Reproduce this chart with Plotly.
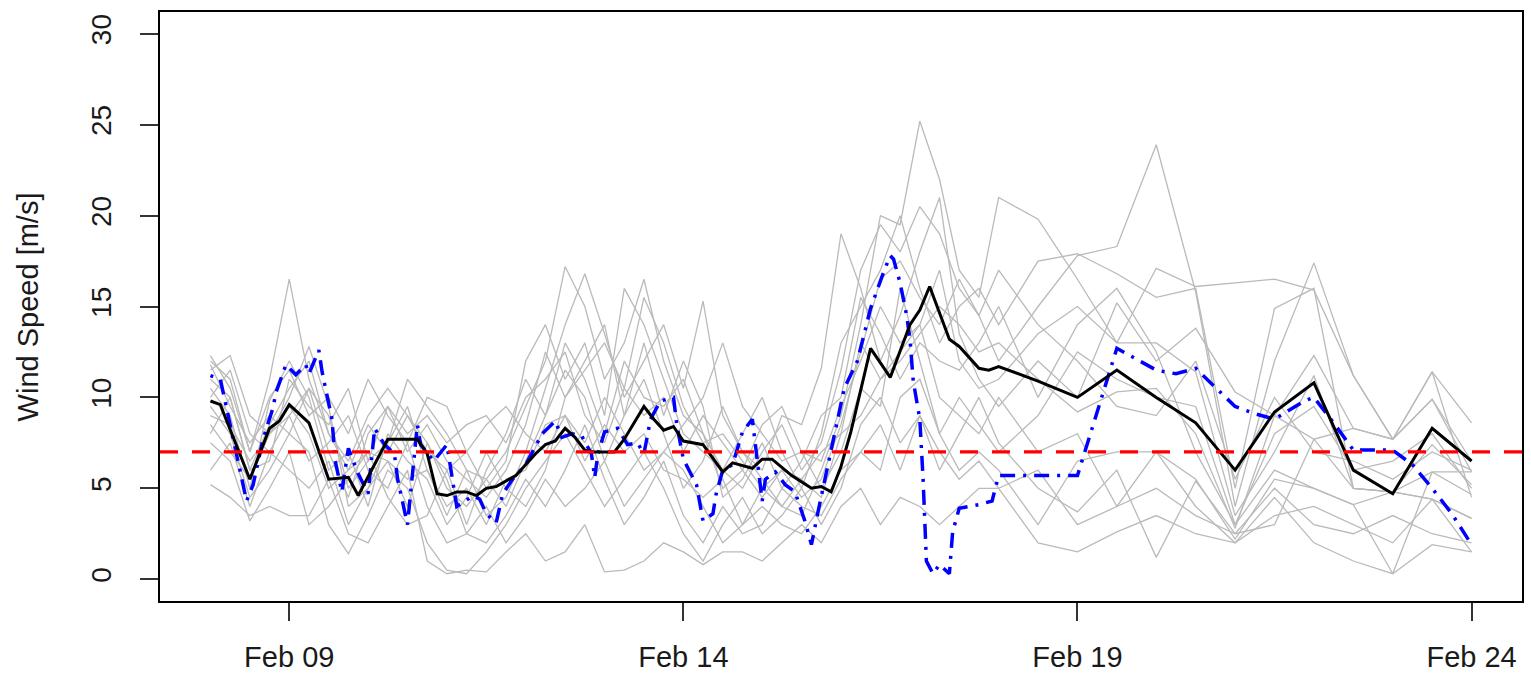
import pandas as pd
import plotly.graph_objects as go

# Forecast start (hour 0) and lead times
START = pd.Timestamp("2019-02-08 00:00")
member_hours = list(range(0, 241, 6)) + list(range(252, 385, 12))

# Ensemble members: wind speed [m/s]
member_01 = [12.3, 10.5, 7.0, 11.0, 16.5, 11.0, 8.0, 6.5, 9.0, 10.5, 9.0, 7.5, 5.0, 4.0, 5.5, 7.0, 9.5, 12.0, 17.2, 15.0, 11.0,
             13.0, 16.5, 12.0, 9.0, 8.0, 6.0, 5.0, 7.0, 8.5, 6.0, 7.5, 11.5, 17.0, 19.5, 18.0, 20.5, 19.0, 16.0, 14.5, 12.0,
             15.0, 17.8, 18.3, 23.9, 15.8, 4.0, 12.0, 17.4, 11.2, 7.7, 11.4, 8.6]
member_02 = [11.5, 12.3, 9.0, 8.0, 10.0, 12.8, 9.5, 4.0, 5.0, 7.5, 11.0, 9.5, 8.0, 6.0, 3.5, 4.5, 7.0, 10.5, 14.0, 16.8, 13.5,
             10.0, 12.0, 14.0, 10.5, 15.3, 9.0, 7.0, 5.5, 4.0, 3.5, 6.0, 9.0, 14.0, 20.0, 19.5, 25.2, 22.0, 17.0, 15.5, 21.0,
             19.8, 16.5, 13.0, 17.1, 16.1, 16.3, 16.5, 15.9, 11.2, 7.7, 9.9, 6.5]
member_03 = [9.5, 8.0, 4.5, 6.0, 8.0, 7.0, 3.0, 1.4, 3.5, 6.0, 5.0, 2.0, 0.5, 0.3, 1.5, 3.0, 5.0, 6.5, 8.0, 6.0, 4.0,
             5.5, 7.0, 5.0, 2.5, 1.0, 3.0, 4.5, 2.5, 3.5, 5.0, 3.0, 5.0, 8.5, 10.0, 7.5, 9.0, 6.0, 8.0, 10.0, 7.5,
             5.0, 3.7, 6.0, 1.2, 5.4, 2.5, 3.0, 7.7, 5.0, 4.8, 4.4, 3.35]
member_04 = [10.5, 9.0, 5.0, 9.8, 12.0, 10.0, 6.0, 7.0, 4.0, 8.0, 6.5, 5.5, 3.0, 4.5, 7.0, 5.0, 4.0, 6.0, 10.0, 12.0, 14.0,
             9.0, 11.0, 8.0, 5.0, 6.5, 9.5, 7.0, 6.0, 9.0, 8.5, 11.6, 19.0, 16.0, 12.0, 14.5, 18.0, 21.0, 13.5, 11.0, 9.5,
             12.0, 10.0, 15.2, 12.0, 13.8, 10.3, 9.0, 12.3, 8.3, 7.7, 9.9, 5.9]
member_05 = [7.5, 6.5, 3.2, 5.0, 7.0, 3.0, 4.0, 5.5, 7.0, 4.5, 3.0, 3.5, 6.0, 7.0, 8.5, 9.5, 8.0, 7.0, 9.0, 7.5, 10.0,
             8.0, 6.0, 7.0, 8.5, 10.0, 13.0, 9.5, 8.0, 6.5, 7.0, 5.0, 7.0, 10.5, 9.5, 16.0, 12.0, 8.0, 10.0, 8.5, 7.0,
             9.0, 12.5, 11.0, 10.0, 9.5, 3.0, 6.0, 5.0, 4.1, 0.3, 5.9, 4.66]
member_06 = [12.0, 11.0, 7.0, 10.0, 11.5, 9.0, 10.0, 8.0, 11.0, 9.0, 7.5, 10.0, 9.5, 7.0, 5.0, 6.5, 12.0, 14.0, 11.0, 13.0, 9.0,
             16.0, 14.0, 11.0, 8.0, 7.0, 6.0, 8.0, 10.0, 7.0, 5.0, 8.0, 13.0, 15.0, 17.0, 20.0, 16.0, 13.0, 15.0, 16.0, 14.0,
             17.5, 17.9, 16.8, 15.5, 16.0, 5.0, 14.9, 16.0, 5.0, 4.8, 7.4, 5.2]
member_07 = [5.2, 4.5, 3.5, 4.0, 3.5, 3.5, 5.5, 2.5, 2.0, 4.0, 6.0, 1.0, 0.3, 0.5, 0.4, 1.5, 2.5, 1.0, 1.5, 3.0, 0.4,
             0.5, 1.0, 2.0, 1.5, 0.8, 1.5, 1.5, 1.0, 2.0, 3.0, 2.0, 4.0, 5.0, 3.0, 4.5, 4.0, 3.0, 4.0, 5.0, 5.0,
             2.0, 1.5, 2.6, 3.5, 2.5, 2.0, 4.5, 2.0, 1.0, 0.3, 1.9, 1.5]
member_08 = [11.0, 10.0, 6.0, 8.5, 10.5, 12.0, 8.0, 6.0, 8.5, 7.0, 9.0, 7.0, 6.0, 3.0, 6.0, 8.0, 11.0, 9.0, 13.0, 11.0, 8.0,
             12.0, 10.0, 9.5, 11.0, 8.0, 5.0, 6.0, 8.5, 9.5, 7.0, 6.5, 9.5, 12.0, 15.0, 13.0, 14.0, 17.0, 12.0, 10.5, 11.0,
             13.5, 15.0, 13.0, 13.0, 11.4, 3.5, 7.0, 11.2, 5.0, 4.8, 5.9, 5.9]
member_09 = [8.5, 7.0, 5.5, 8.0, 9.0, 6.5, 7.5, 9.0, 6.0, 5.0, 7.5, 4.0, 2.0, 2.5, 4.0, 2.0, 3.5, 5.5, 4.0, 5.0, 6.5,
             4.0, 5.5, 7.0, 6.0, 4.0, 2.0, 3.0, 4.0, 3.0, 2.5, 4.0, 6.0, 7.0, 6.0, 10.0, 11.0, 8.0, 6.0, 7.0, 6.0,
             3.0, 6.5, 7.0, 7.0, 5.5, 2.2, 5.5, 5.0, 4.1, 4.8, 4.4, 1.5]
member_10 = [10.0, 11.5, 8.0, 7.0, 9.0, 10.5, 9.0, 5.0, 6.5, 9.5, 8.0, 9.0, 7.5, 8.5, 9.0, 7.5, 10.0, 11.0, 12.5, 9.0, 7.5,
             10.5, 9.0, 10.0, 7.0, 9.0, 7.5, 6.0, 4.5, 6.0, 5.5, 7.0, 8.0, 13.0, 11.0, 12.0, 13.5, 15.0, 14.0, 12.5, 13.0,
             11.0, 9.2, 10.3, 10.5, 8.0, 2.8, 9.0, 7.7, 8.3, 7.7, 11.4, 4.5]
member_11 = [9.0, 8.5, 6.5, 8.0, 9.5, 8.0, 5.0, 6.0, 7.0, 6.5, 5.5, 6.0, 4.0, 5.0, 3.0, 5.5, 6.0, 8.5, 9.0, 6.5, 8.5,
             7.0, 8.0, 6.0, 5.5, 4.5, 5.5, 3.0, 5.0, 4.0, 5.5, 4.5, 8.0, 9.0, 11.0, 12.5, 14.0, 10.0, 9.0, 8.0, 10.0,
             7.0, 8.0, 4.0, 7.0, 4.0, 2.0, 3.5, 4.0, 3.0, 2.0, 4.4, 3.35]
member_12 = [11.8, 9.5, 7.5, 9.0, 8.0, 10.5, 7.0, 4.5, 8.0, 9.5, 7.0, 8.5, 6.5, 5.5, 4.5, 6.0, 8.5, 12.5, 10.0, 11.5, 13.0,
             10.5, 15.5, 13.0, 9.5, 7.5, 8.0, 6.5, 5.0, 6.0, 4.5, 5.5, 8.5, 12.5, 16.5, 17.5, 15.5, 14.0, 16.5, 14.5, 17.0,
             14.0, 12.0, 9.5, 9.0, 12.0, 5.5, 10.0, 7.0, 6.5, 5.5, 7.0, 6.0]
member_13 = [8.0, 10.0, 6.0, 6.5, 11.0, 9.5, 8.5, 10.5, 6.5, 7.5, 9.5, 6.0, 3.5, 6.0, 5.5, 4.0, 6.5, 9.0, 11.5, 10.0, 6.5,
             9.0, 13.0, 9.0, 12.0, 9.5, 4.5, 5.5, 7.5, 5.0, 6.5, 9.0, 10.0, 15.5, 13.5, 11.0, 13.0, 12.0, 11.5, 13.0, 15.0,
             10.0, 14.0, 16.0, 12.5, 7.0, 3.0, 8.0, 9.5, 6.0, 6.5, 8.0, 5.0]
member_14 = [6.0, 7.5, 4.0, 7.0, 6.0, 5.0, 6.5, 3.0, 5.0, 6.5, 4.0, 7.5, 5.5, 2.5, 2.0, 3.5, 5.5, 4.0, 6.0, 8.5, 5.5,
             3.0, 4.5, 6.5, 3.5, 2.0, 4.0, 2.5, 3.0, 5.0, 4.0, 3.5, 5.5, 7.0, 8.5, 6.0, 9.0, 7.0, 5.5, 6.5, 5.0,
             6.0, 3.0, 4.0, 5.0, 3.5, 2.5, 5.0, 3.0, 2.5, 3.5, 2.5, 2.0]
members = [member_01, member_02, member_03, member_04, member_05, member_06, member_07,
           member_08, member_09, member_10, member_11, member_12, member_13, member_14]

# Ensemble mean
mean_hours = [0, 3, 12, 18, 21, 24, 30, 36, 42, 45, 54, 63, 66, 69, 72, 75, 78, 81, 84, 87, 93, 99, 102, 105, 108,
              111, 114, 117, 123, 126, 132, 135, 138, 141, 144, 150, 156, 159, 165, 168, 171, 177, 183, 186, 189,
              192, 195, 201, 207, 213, 216, 219, 225, 228, 234, 237, 240, 252, 264, 276, 288, 300, 312, 324, 336,
              348, 360, 372, 384]
mean_speed = [9.8, 9.6, 5.5, 8.3, 8.7, 9.6, 8.6, 5.5, 5.6, 4.6, 7.7, 7.7, 6.9, 4.7, 4.6, 4.8, 4.8, 4.6, 5.0, 5.1, 5.7,
              6.9, 7.4, 7.6, 8.3, 7.8, 7.1, 7.0, 7.0, 7.7, 9.5, 8.8, 8.2, 8.4, 7.6, 7.4, 5.9, 6.4, 6.1, 6.6, 6.6,
              5.7, 5.0, 5.1, 4.8, 6.2, 8.1, 12.7, 11.1, 14.0, 14.8, 16.1, 13.2, 12.8, 11.6, 11.5, 11.7, 10.9, 10.0,
              11.5, 10.0, 8.6, 6.0, 9.2, 10.8, 6.0, 4.7, 8.3, 6.5]

# Deterministic run
det_hours = [0, 3, 6, 9, 11, 13, 16, 19, 20, 23, 26, 29, 30, 33, 34, 37, 38, 40, 42, 45, 48, 50, 53, 56, 57, 60,
             63, 64, 68, 72, 73, 74, 75, 80, 82, 84, 87, 89, 92, 96, 98, 101, 105, 107, 110, 113, 116, 117, 118,
             120, 124, 127, 130, 132, 134, 137, 141, 142, 144, 148, 150, 153, 154, 156, 159, 162, 165, 166, 168,
             169, 172, 175, 178, 181, 183, 185, 188, 190, 193, 197, 201, 205, 207, 208, 210, 212, 213, 214, 216,
             217, 218, 220, 222, 225, 226, 228, 234, 238, 240, 264, 276, 288, 294, 300, 312, 318, 324, 333, 336,
             342, 348, 360, 366, 372, 378, 384]
det_speed = [11.2, 11.0, 8.5, 5.9, 4.3, 5.2, 7.7, 9.4, 10.3, 11.8, 11.25, 11.8, 11.3, 12.6, 11.4, 8.8, 6.5, 4.8, 7.2,
             5.8, 4.7, 8.3, 7.4, 6.9, 5.5, 3.0, 8.5, 7.4, 6.5, 7.4, 6.3, 5.2, 4.0, 4.6, 4.4, 3.6, 3.1, 4.7, 5.5, 6.3,
             7.0, 8.0, 8.7, 7.8, 8.0, 7.9, 6.9, 5.6, 6.9, 8.1, 8.3, 7.4, 7.5, 6.9, 8.8, 9.8, 10.0, 8.5, 6.6, 5.2,
             3.2, 3.6, 4.7, 6.0, 6.3, 8.1, 8.8, 7.4, 4.3, 5.5, 5.9, 5.2, 4.8, 3.2, 1.9, 3.7, 6.3, 8.1, 10.5, 12.0,
             14.9, 16.9, 17.8, 17.6, 16.3, 14.5, 13.2, 10.9, 8.8, 5.5, 1.0, 0.3, 0.8, 0.3, 2.6, 3.9, 4.1, 4.3, 5.7,
             5.7, 12.7, 11.5, 11.3, 11.6, 9.5, 9.1, 8.8, 9.8, 10.0, 8.6, 7.1, 7.1, 6.3, 5.0, 3.6, 1.9]

THRESHOLD = 7.0
tick_days = ["2019-02-09", "2019-02-14", "2019-02-19", "2019-02-24"]
tick_text = ["Feb 09", "Feb 14", "Feb 19", "Feb 24"]


def to_time(hours):
    return [START + pd.Timedelta(hours=h) for h in hours]


fig = go.Figure()

for m in members:
    fig.add_trace(go.Scatter(x=to_time(member_hours), y=m, mode="lines",
                             line=dict(color="#bababa", width=1.3), hoverinfo="skip"))

fig.add_trace(go.Scatter(x=to_time(det_hours), y=det_speed, mode="lines",
                         line=dict(color="#0000ff", width=3.5, dash="3px,8px,15px,8px")))
fig.add_trace(go.Scatter(x=to_time(mean_hours), y=mean_speed, mode="lines",
                         line=dict(color="#000000", width=3)))

# Padding of 4 % around the forecast window, as in base graphics
span_h = 384
pad = pd.Timedelta(hours=0.04 * span_h)
x0 = START - pad
x1 = START + pd.Timedelta(hours=span_h) + pad

fig.add_shape(type="line", xref="paper", yref="y", x0=0, x1=1, y0=THRESHOLD, y1=THRESHOLD,
              line=dict(color="#ff0000", width=3.2, dash="18px,14px"), layer="above")

font_family = "Liberation Sans, Arial, sans-serif"
fig.update_layout(
    width=1531, height=676,
    margin=dict(l=160, r=9, t=12, b=75, autoexpand=False),
    paper_bgcolor="white", plot_bgcolor="white",
    showlegend=False,
    font=dict(family=font_family, color="#1a1a1a"),
    xaxis=dict(range=[x0, x1], showgrid=False, zeroline=False, automargin=False,
               showline=True, mirror=True, linecolor="black", linewidth=1.5,
               ticks="outside", ticklen=18, tickwidth=1.5, tickcolor="#333",
               tickvals=pd.to_datetime(tick_days), ticktext=tick_text,
               tickfont=dict(size=29, family=font_family), ticklabelstandoff=11),
    yaxis=dict(range=[-1.2, 31.2], showgrid=False, zeroline=False, automargin=False,
               showline=True, mirror=True, linecolor="black", linewidth=1.5,
               ticks="outside", ticklen=18, tickwidth=1.5, tickcolor="#333",
               tickvals=[0, 5, 10, 15, 20, 25, 30], tickangle=-90,
               tickfont=dict(size=28, family=font_family), ticklabelstandoff=18),
    annotations=[dict(text="Wind Speed [m/s]", xref="paper", yref="paper",
                      x=-0.097, y=0.5, xanchor="center", yanchor="middle",
                      textangle=-90, showarrow=False,
                      font=dict(size=29, family=font_family, color="#1a1a1a"))],
)

fig.write_html("out.html")
